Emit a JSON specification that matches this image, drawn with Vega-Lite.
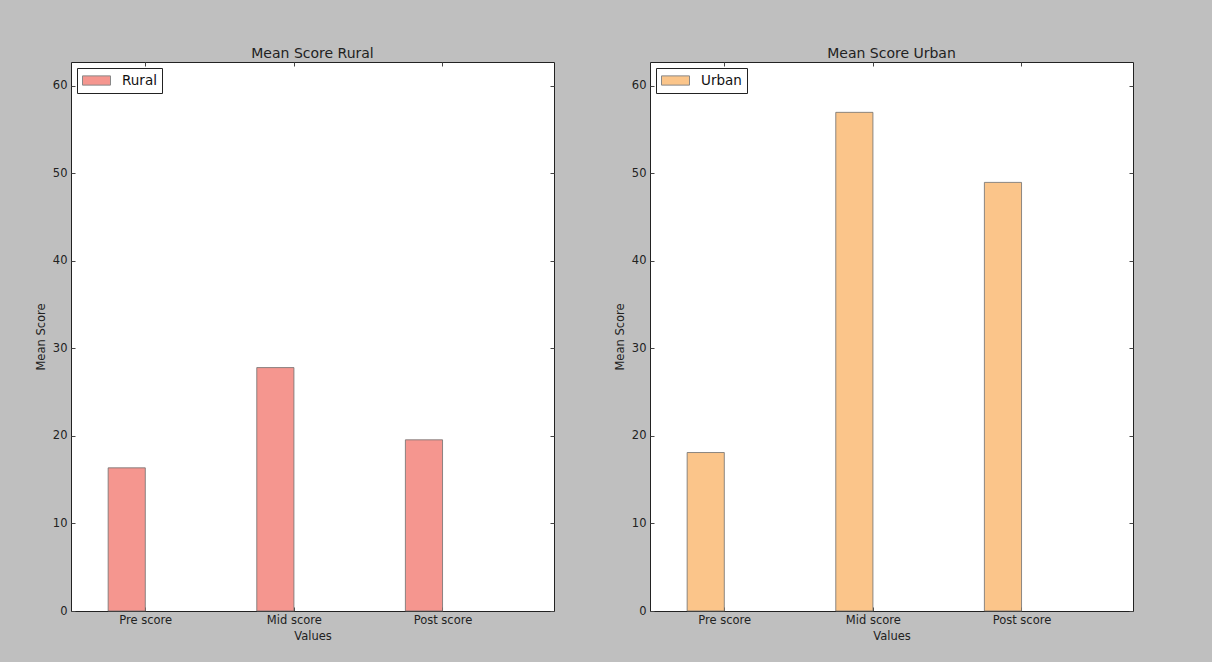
{
  "$schema": "https://vega.github.io/schema/vega-lite/v6.json",
  "background": "#bfbfbf",
  "padding": {"left": 34, "top": 46, "right": 79, "bottom": 20},
  "spacing": 96,
  "bounds": "flush",
  "datasets": {
    "scores": [
      {"area": "Rural", "measure": "Pre score", "score": 16.35},
      {"area": "Rural", "measure": "Mid score", "score": 27.8},
      {"area": "Rural", "measure": "Post score", "score": 19.55},
      {"area": "Urban", "measure": "Pre score", "score": 18.1},
      {"area": "Urban", "measure": "Mid score", "score": 56.95},
      {"area": "Urban", "measure": "Post score", "score": 48.95}
    ]
  },
  "config": {
    "font": "DejaVu Sans",
    "view": {"fill": "white", "stroke": "#222", "strokeWidth": 1},
    "title": {"fontSize": 14, "fontWeight": "normal", "color": "#222", "offset": 1, "anchor": "middle", "font": "DejaVu Sans"},
    "axis": {
      "labelFont": "DejaVu Sans", "labelFontSize": 11.5, "labelColor": "#222",
      "titleFont": "DejaVu Sans", "titleFontSize": 11.5, "titleFontWeight": "normal", "titleColor": "#222",
      "domain": false, "grid": false, "tickColor": "#444", "tickSize": -4, "tickWidth": 1
    },
    "legend": {
      "labelFont": "DejaVu Sans", "labelFontSize": 13.5, "labelColor": "#111",
      "strokeColor": "#222", "fillColor": "white", "padding": 5, "cornerRadius": 0,
      "orient": "top-left", "offset": 6, "title": null
    }
  },
  "resolve": {"scale": {"color": "independent"}, "legend": {"color": "independent"}},
  "hconcat": [
    {
      "width": 483, "height": 549,
      "title": "Mean Score Rural",
      "data": {"name": "scores"},
      "transform": [{"filter": "datum.area === 'Rural'"}],
      "layer": [
        {
          "mark": {"type": "bar", "stroke": "#6f6f6f", "strokeWidth": 1, "strokeOpacity": 0.8},
          "encoding": {
            "x": {"field": "measure", "type": "nominal", "sort": ["Pre score", "Mid score", "Post score"],
                  "scale": {"paddingInner": 0.75, "paddingOuter": 0.5, "align": 0.25},
                  "axis": {"orient": "bottom", "title": "Values", "labelAngle": 0, "bandPosition": 0.5, "tickOffset": 18.5, "labelPadding": 7, "titlePadding": 5}},
            "y": {"field": "score", "type": "quantitative", "scale": {"domain": [0, 62.7], "nice": false},
                  "axis": {"orient": "left", "title": "Mean Score", "values": [0, 10, 20, 30, 40, 50, 60], "labelPadding": 8, "titlePadding": 6}},
            "color": {"field": "area", "type": "nominal", "scale": {"domain": ["Rural"], "range": ["#f5968f"]},
                      "legend": {"symbolType": "M-2,-0.66H2V0.66H-2Z", "symbolSize": 196, "symbolOffset": 7, "symbolStrokeColor": "#888", "symbolStrokeWidth": 1, "labelOffset": 18}}
          }
        },
        {
          "mark": {"type": "bar", "opacity": 0},
          "encoding": {
            "x": {"field": "measure", "type": "nominal", "sort": ["Pre score", "Mid score", "Post score"],
                  "scale": {"paddingInner": 0.75, "paddingOuter": 0.5, "align": 0.25},
                  "axis": {"orient": "top", "title": null, "labels": false, "bandPosition": 0.5, "tickOffset": 18.5}},
            "y": {"field": "score", "type": "quantitative", "scale": {"domain": [0, 62.7], "nice": false},
                  "axis": {"orient": "right", "title": null, "labels": false, "values": [0, 10, 20, 30, 40, 50, 60]}}
          }
        }
      ],
      "resolve": {"axis": {"x": "independent", "y": "independent"}}
    },
    {
      "width": 483, "height": 549,
      "title": "Mean Score Urban",
      "data": {"name": "scores"},
      "transform": [{"filter": "datum.area === 'Urban'"}],
      "layer": [
        {
          "mark": {"type": "bar", "stroke": "#6f6f6f", "strokeWidth": 1, "strokeOpacity": 0.8},
          "encoding": {
            "x": {"field": "measure", "type": "nominal", "sort": ["Pre score", "Mid score", "Post score"],
                  "scale": {"paddingInner": 0.75, "paddingOuter": 0.5, "align": 0.25},
                  "axis": {"orient": "bottom", "title": "Values", "labelAngle": 0, "bandPosition": 0.5, "tickOffset": 18.5, "labelPadding": 7, "titlePadding": 5}},
            "y": {"field": "score", "type": "quantitative", "scale": {"domain": [0, 62.7], "nice": false},
                  "axis": {"orient": "left", "title": "Mean Score", "values": [0, 10, 20, 30, 40, 50, 60], "labelPadding": 8, "titlePadding": 6}},
            "color": {"field": "area", "type": "nominal", "scale": {"domain": ["Urban"], "range": ["#fbc58a"]},
                      "legend": {"symbolType": "M-2,-0.66H2V0.66H-2Z", "symbolSize": 196, "symbolOffset": 7, "symbolStrokeColor": "#888", "symbolStrokeWidth": 1, "labelOffset": 18}}
          }
        },
        {
          "mark": {"type": "bar", "opacity": 0},
          "encoding": {
            "x": {"field": "measure", "type": "nominal", "sort": ["Pre score", "Mid score", "Post score"],
                  "scale": {"paddingInner": 0.75, "paddingOuter": 0.5, "align": 0.25},
                  "axis": {"orient": "top", "title": null, "labels": false, "bandPosition": 0.5, "tickOffset": 18.5}},
            "y": {"field": "score", "type": "quantitative", "scale": {"domain": [0, 62.7], "nice": false},
                  "axis": {"orient": "right", "title": null, "labels": false, "values": [0, 10, 20, 30, 40, 50, 60]}}
          }
        }
      ],
      "resolve": {"axis": {"x": "independent", "y": "independent"}}
    }
  ]
}
